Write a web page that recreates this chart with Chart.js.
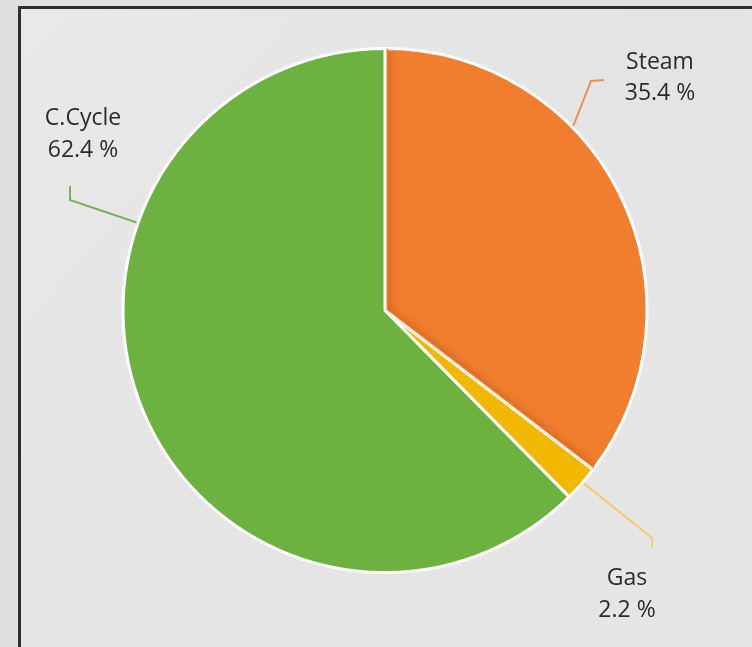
<!DOCTYPE html>
<html>
<head>
<meta charset="utf-8">
<script src="https://cdn.jsdelivr.net/npm/chart.js@4.4.1/dist/chart.umd.min.js"></script>
<style>
  html, body { margin: 0; padding: 0; background: #dfdfdf; }
  #wrap { width: 752px; height: 647px; position: relative; }
</style>
</head>
<body>
<div id="wrap"><canvas id="c" width="752" height="647"></canvas></div>
<script>
// ---- data ----
const categories = ["Steam", "Gas", "C.Cycle"];
const shares = [35.4, 2.2, 62.4];
const valueLabels = ["35.4 %", "2.2 %", "62.4 %"];
const sliceColors = ["#F07E2E", "#F2B800", "#6DB140"];
const leaderColors = ["#EE8E55", "#F0CF68", "#78B55A"];

// label layout (positions of callouts, not data marks)
const labelLayout = [
  { anchorDeg: -44.4, path: [[591, 81], [604, 80]], text: [660, 69, 100] },
  { anchorDeg: 41.0,  path: [[652, 538], [652, 547]], text: [627, 585, 617] },
  { anchorDeg: -160.5, path: [[70, 200], [70, 186]], text: [83, 125, 157] }
];

const frameBg = {
  id: 'frameBg',
  beforeDraw(chart) {
    const ctx = chart.ctx;
    ctx.save();
    ctx.fillStyle = '#dfdfdf';
    ctx.fillRect(0, 0, chart.width, chart.height);
    const g = ctx.createLinearGradient(19, 7, 752, 647);
    g.addColorStop(0, '#e9e9e9');
    g.addColorStop(0.5, '#e4e4e4');
    g.addColorStop(1, '#e6e6e6');
    ctx.fillStyle = g;
    ctx.fillRect(19, 7, 760, 660);
    ctx.strokeStyle = '#2e2e2e';
    ctx.lineWidth = 3;
    ctx.strokeRect(19.5, 7.5, 760, 660);
    ctx.restore();
  }
};

// soft inner shadow along the radial edges of the first slice
const innerShade = {
  id: 'innerShade',
  afterDatasetsDraw(chart) {
    const ctx = chart.ctx;
    const arc = chart.getDatasetMeta(0).data[0];
    const { x, y, startAngle, endAngle, outerRadius } = arc;
    ctx.save();
    ctx.beginPath();
    ctx.moveTo(x, y);
    ctx.arc(x, y, outerRadius, startAngle, endAngle);
    ctx.closePath();
    ctx.clip();
    const edge = () => {
      ctx.beginPath();
      ctx.moveTo(x + outerRadius * Math.cos(startAngle), y + outerRadius * Math.sin(startAngle));
      ctx.lineTo(x, y);
      ctx.lineTo(x + outerRadius * Math.cos(endAngle), y + outerRadius * Math.sin(endAngle));
    };
    ctx.shadowColor = 'rgba(150,60,10,0.55)';
    ctx.shadowBlur = 9;
    ctx.strokeStyle = sliceColors[0];
    ctx.lineWidth = 6;
    ctx.lineJoin = 'miter';
    edge();
    ctx.stroke();
    ctx.shadowColor = 'transparent';
    ctx.shadowBlur = 0;
    ctx.strokeStyle = '#ffffff';
    ctx.lineWidth = 3;
    edge();
    ctx.stroke();
    ctx.restore();
  }
};

const callouts = {
  id: 'callouts',
  afterDatasetsDraw(chart) {
    const ctx = chart.ctx;
    const meta = chart.getDatasetMeta(0);
    ctx.save();
    meta.data.forEach((arc, i) => {
      const lay = labelLayout[i];
      const a = lay.anchorDeg * Math.PI / 180;
      const r = arc.outerRadius + 1.5;
      const sx = arc.x + r * Math.cos(a);
      const sy = arc.y + r * Math.sin(a);
      ctx.strokeStyle = leaderColors[i];
      ctx.lineWidth = 2;
      ctx.beginPath();
      ctx.moveTo(sx, sy);
      lay.path.forEach(p => ctx.lineTo(p[0], p[1]));
      ctx.stroke();
      ctx.fillStyle = '#2b2b2b';
      ctx.font = '500 23px "Open Sans", "Noto Sans", sans-serif';
      ctx.textAlign = 'center';
      ctx.textBaseline = 'alphabetic';
      ctx.fillText(categories[i], lay.text[0], lay.text[1]);
      ctx.fillText(valueLabels[i], lay.text[0], lay.text[2]);
    });
    ctx.restore();
  }
};

new Chart(document.getElementById('c'), {
  type: 'pie',
  data: {
    labels: categories,
    datasets: [{
      data: shares,
      backgroundColor: sliceColors,
      borderColor: '#ffffff',
      borderWidth: 3,
      hoverOffset: 0
    }]
  },
  options: {
    responsive: false,
    animation: false,
    events: [],
    layout: { padding: { top: 47, bottom: 73, left: 100, right: 82 } },
    plugins: { legend: { display: false }, tooltip: { enabled: false } }
  },
  plugins: [frameBg, innerShade, callouts]
});
</script>
</body>
</html>
